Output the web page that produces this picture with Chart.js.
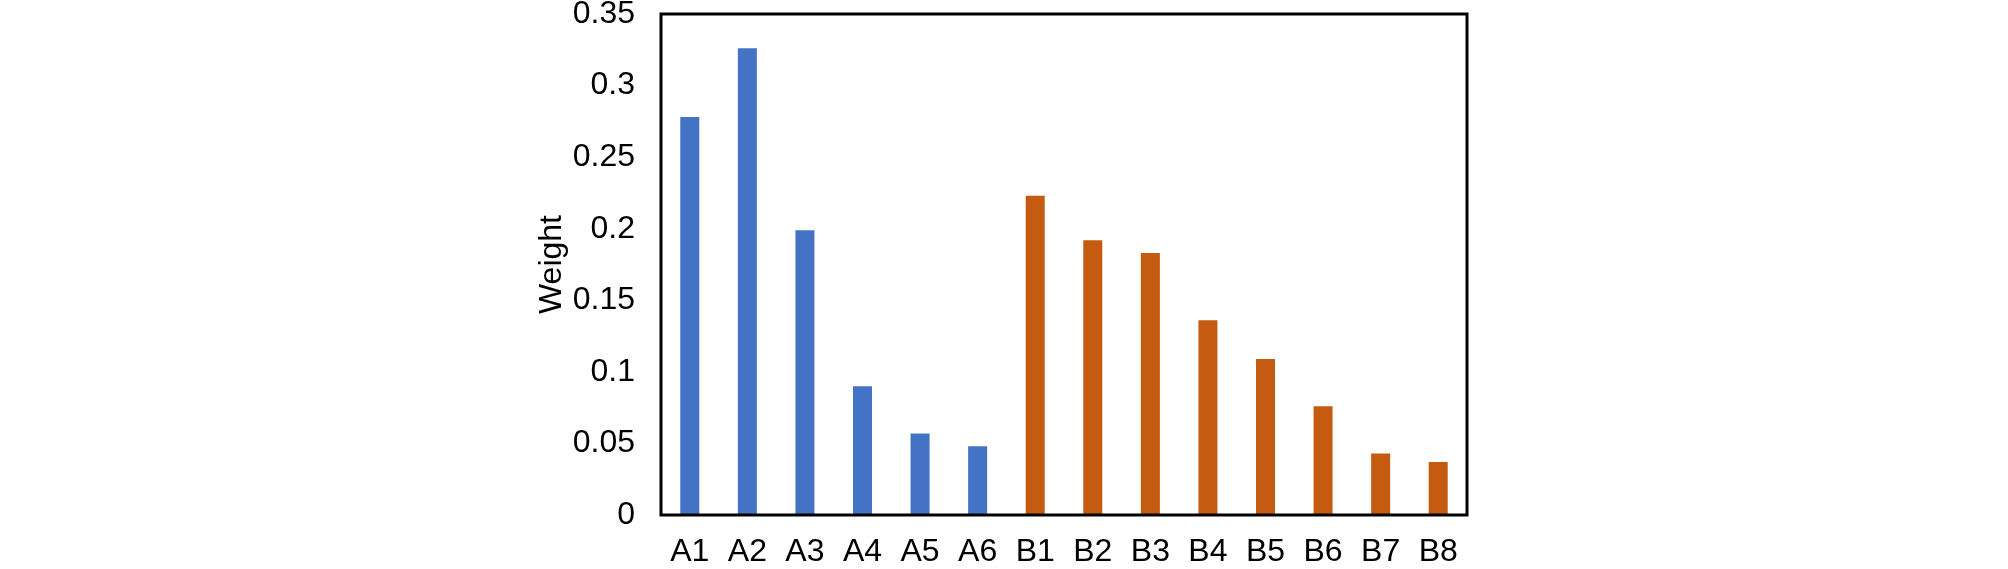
<!DOCTYPE html>
<html>
<head>
<meta charset="utf-8">
<script src="https://cdn.jsdelivr.net/npm/chart.js@4/dist/chart.umd.min.js"></script>
<style>
  html, body { margin: 0; padding: 0; background: #fff; }
  canvas { display: block; }
</style>
</head>
<body>
<canvas id="c" width="2008" height="569"></canvas>
<script>
const categoriesA = ["A1", "A2", "A3", "A4", "A5", "A6"];
const categoriesB = ["B1", "B2", "B3", "B4", "B5", "B6", "B7", "B8"];
const valuesA = [0.278, 0.326, 0.199, 0.090, 0.057, 0.048];
const valuesB = [0.223, 0.192, 0.183, 0.136, 0.109, 0.076, 0.043, 0.037];
const yTickValues = [0, 0.05, 0.1, 0.15, 0.2, 0.25, 0.3, 0.35];
const yTickLabels = ["0", "0.05", "0.1", "0.15", "0.2", "0.25", "0.3", "0.35"];
const yTitle = "Weight";
const colorA = "#4472C4";
const colorB = "#C55A11";

const labels = categoriesA.concat(categoriesB);
const data = valuesA.concat(valuesB);
const colors = categoriesA.map(() => colorA).concat(categoriesB.map(() => colorB));

const FONT = "'Liberation Sans', Arial, sans-serif";
const FONT_SIZE = 32;

const borderBox = {
  id: 'borderBox',
  afterDraw(chart) {
    const a = chart.chartArea;
    const ctx = chart.ctx;
    ctx.save();
    ctx.strokeStyle = '#000';
    ctx.lineWidth = 3;
    ctx.strokeRect(a.left, a.top, a.right - a.left, a.bottom - a.top);
    ctx.restore();
  }
};

const LEFT_PAD = 533;
const PLOT_LEFT = 661;
const X_AXIS_HEIGHT = 54;

new Chart(document.getElementById('c'), {
  type: 'bar',
  data: {
    labels: labels,
    datasets: [{
      data: data,
      backgroundColor: colors,
      borderWidth: 0,
      barPercentage: 0.33,
      categoryPercentage: 1.0
    }]
  },
  options: {
    responsive: false,
    animation: false,
    events: [],
    layout: { padding: { left: LEFT_PAD, right: 541, top: 14, bottom: 0 } },
    plugins: { legend: { display: false }, tooltip: { enabled: false } },
    scales: {
      x: {
        afterFit(scale) {
          scale.height = X_AXIS_HEIGHT;
          scale.paddingLeft = 0;
          scale.paddingRight = 0;
        },
        grid: { display: false, drawTicks: false },
        border: { display: false },
        ticks: {
          color: '#000',
          padding: 18,
          maxRotation: 0,
          autoSkip: false,
          font: { family: FONT, size: FONT_SIZE }
        }
      },
      y: {
        min: 0,
        max: 0.35,
        afterFit(scale) {
          scale.width = PLOT_LEFT - LEFT_PAD;
          scale.paddingTop = 0;
          scale.paddingBottom = 0;
        },
        afterBuildTicks(scale) { scale.ticks = yTickValues.map(v => ({ value: v })); },
        grid: { display: false, drawTicks: false },
        border: { display: false },
        ticks: {
          color: '#000',
          padding: 26,
          font: { family: FONT, size: FONT_SIZE },
          callback: function(value, index) { return yTickLabels[index]; }
        },
        title: {
          display: true,
          text: yTitle,
          color: '#000',
          padding: 0,
          font: { family: FONT, size: FONT_SIZE }
        }
      }
    }
  },
  plugins: [borderBox]
});
</script>
</body>
</html>
